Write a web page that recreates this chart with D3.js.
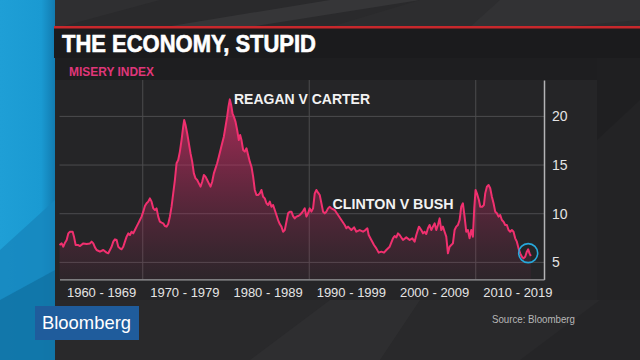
<!DOCTYPE html>
<html><head><meta charset="utf-8">
<script src="https://cdn.jsdelivr.net/npm/d3@7"></script>
<style>html,body{margin:0;padding:0;background:#2a2a2c;}svg{display:block;}</style>
</head><body>
<svg id="c" width="640" height="360"></svg>
<script>
// ---- data ----
const years = [1960.00,1960.26,1960.46,1960.66,1960.86,1961.06,1961.26,1961.58,1961.74,1961.94,1962.26,1962.46,1962.86,1963.26,1963.66,1963.86,1964.06,1964.26,1964.46,1964.86,1965.26,1965.66,1965.86,1966.06,1966.26,1966.46,1966.66,1966.86,1967.06,1967.26,1967.46,1967.66,1967.86,1968.06,1968.26,1968.46,1968.66,1968.86,1969.06,1969.26,1969.46,1969.66,1969.86,1970.06,1970.26,1970.46,1970.66,1970.86,1971.06,1971.26,1971.46,1971.66,1971.86,1972.06,1972.26,1972.46,1972.66,1972.86,1973.06,1973.26,1973.46,1973.66,1973.86,1974.06,1974.26,1974.46,1974.66,1974.86,1974.98,1975.14,1975.34,1975.54,1975.74,1975.94,1976.14,1976.34,1976.54,1976.74,1976.94,1977.14,1977.34,1977.54,1977.74,1977.94,1978.14,1978.34,1978.54,1978.74,1978.94,1979.14,1979.34,1979.54,1979.74,1979.94,1980.14,1980.30,1980.46,1980.62,1980.78,1980.94,1981.14,1981.34,1981.54,1981.70,1981.86,1982.06,1982.26,1982.46,1982.66,1982.86,1983.06,1983.26,1983.46,1983.66,1983.86,1984.06,1984.26,1984.46,1984.66,1984.86,1985.06,1985.26,1985.46,1985.66,1985.86,1986.06,1986.26,1986.46,1986.66,1986.86,1987.06,1987.26,1987.46,1987.66,1987.86,1988.06,1988.26,1988.46,1988.66,1988.86,1989.06,1989.26,1989.46,1989.66,1989.86,1990.06,1990.26,1990.46,1990.66,1990.86,1991.06,1991.26,1991.46,1991.66,1991.86,1992.06,1992.26,1992.46,1992.66,1993.06,1993.46,1993.86,1994.26,1994.46,1994.66,1995.06,1995.38,1995.66,1996.06,1996.46,1996.74,1996.98,1997.14,1997.46,1997.78,1998.06,1998.34,1998.66,1998.98,1999.26,1999.66,2000.06,2000.26,2000.46,2000.66,2000.86,2001.26,2001.66,2002.06,2002.38,2002.66,2002.86,2003.18,2003.46,2003.66,2003.86,2004.06,2004.26,2004.46,2004.66,2004.86,2005.06,2005.26,2005.46,2005.66,2005.86,2006.06,2006.26,2006.46,2006.66,2006.86,2007.06,2007.26,2007.46,2007.66,2007.86,2008.06,2008.26,2008.46,2008.66,2008.86,2009.06,2009.26,2009.46,2009.66,2009.82,2009.98,2010.14,2010.38,2010.54,2010.78,2010.98,2011.14,2011.34,2011.54,2011.74,2011.94,2012.14,2012.34,2012.54,2012.74,2012.94,2013.14,2013.34,2013.54,2013.74,2013.94,2014.14,2014.34,2014.54,2014.74,2014.94,2015.14,2015.34,2015.54,2015.74,2015.94,2016.14,2016.30,2016.46,2016.62];
const misery = [6.78,6.95,6.61,7.02,7.30,7.98,8.15,8.15,7.64,6.78,6.78,6.68,6.95,6.89,6.95,7.13,6.95,6.54,6.27,6.10,6.27,6.00,5.93,6.27,6.61,7.13,7.37,7.30,6.61,6.44,6.34,6.61,7.13,7.64,7.98,7.81,8.15,7.98,8.32,8.67,9.01,9.35,9.70,10.21,10.79,11.07,11.24,11.58,11.24,10.55,10.38,10.55,9.70,9.18,9.08,9.01,8.74,8.67,8.94,9.70,10.72,12.09,13.46,15.18,15.52,16.38,17.57,18.94,19.63,19.12,18.26,17.23,16.20,15.35,14.15,13.63,13.46,13.12,12.78,13.29,13.98,13.81,13.46,13.12,12.78,13.29,14.15,14.66,15.18,15.86,16.55,17.23,17.92,18.94,19.97,21.00,21.75,21.17,20.32,19.97,19.46,18.60,17.57,18.09,17.57,16.55,16.38,16.72,16.03,15.35,14.83,13.81,12.44,11.92,11.92,12.09,12.44,11.75,11.58,11.07,10.89,11.24,10.72,10.89,10.38,9.87,9.35,8.94,8.67,8.15,8.32,9.18,10.04,10.21,10.21,9.76,9.52,9.70,9.76,9.87,10.04,10.28,10.55,9.70,10.04,10.55,10.21,10.55,12.09,12.44,12.16,11.92,11.07,10.21,10.04,10.21,10.55,10.72,10.55,10.38,9.87,9.35,8.84,8.50,8.67,8.32,8.60,8.15,8.32,8.15,8.32,8.50,7.81,7.30,6.78,6.44,6.00,6.10,6.00,6.27,6.61,7.47,7.71,7.57,7.98,7.81,7.30,7.57,7.30,7.47,7.13,7.81,8.67,8.32,7.98,8.15,7.91,8.50,8.84,8.32,8.67,9.01,8.32,8.84,9.52,8.32,8.67,8.15,7.64,5.93,6.61,6.78,6.95,8.32,8.67,8.84,9.35,10.72,11.07,9.70,8.15,8.32,7.47,8.32,7.64,10.55,12.44,12.09,11.41,10.72,10.72,10.89,12.09,12.78,12.95,12.61,11.75,11.07,10.21,10.04,9.70,9.87,9.35,9.18,8.84,8.84,8.32,8.15,8.32,8.15,7.47,7.13,6.44,5.93,5.58,5.41,5.58,6.10,6.34,5.93,5.65];
const decadeMids = [1965,1975,1985,1995,2005,2015];
const decadeLabels = ["1960 - 1969","1970 - 1979","1980 - 1989","1990 - 1999","2000 - 2009","2010 - 2019"];
const xGridYears = [1970,1990,2010];
const yTicks = [5,10,15,20];
const title = "THE ECONOMY, STUPID";
const subtitle = "MISERY INDEX";
const notes = [{text:"REAGAN V CARTER", year:1980.96, value:21.27, len:136},
               {text:"CLINTON V BUSH", year:1992.8, value:10.45, len:121}];
const highlight = {year:2016.3, value:5.95};

// ---- drawing ----
const svg = d3.select("#c");
const font = "'Liberation Sans', Arial, sans-serif";
const defs = svg.append("defs");

// background
svg.append("rect").attr("width",640).attr("height",360).attr("fill","#2a2a2c");
const facets = [
  {p:"55,0 160,0 60,27 55,27", f:"#2f2f31"},
  {p:"165,27 330,0 420,0 250,27", f:"#363638"},
  {p:"420,0 640,0 640,27 330,27", f:"#2d2d2f"},
  {p:"500,0 640,0 640,20 560,27 470,27", f:"#323234"},
  {p:"597,58 640,58 640,300 597,300", f:"#1f1f21"},
  {p:"597,140 640,100 640,300 597,300", f:"#232325"},
  {p:"55,300 640,300 640,360 55,360", f:"#29292b"},
  {p:"250,360 330,300 420,300 380,360", f:"#2e2e30"},
  {p:"520,360 600,300 640,300 640,360", f:"#252527"}
];
svg.selectAll("polygon.facet").data(facets).enter().append("polygon")
  .attr("class","facet").attr("points",d=>d.p).attr("fill",d=>d.f);

// left blue strip
const bg = defs.append("linearGradient").attr("id","blue").attr("x1",0).attr("x2",1).attr("y1",0).attr("y2",0);
bg.append("stop").attr("offset","0").attr("stop-color","#1f9fd6");
bg.append("stop").attr("offset","0.75").attr("stop-color","#1a9ad2");
bg.append("stop").attr("offset","1").attr("stop-color","#127bb0");
svg.append("rect").attr("x",0).attr("y",0).attr("width",55).attr("height",360).attr("fill","url(#blue)");
svg.append("polygon").attr("points","0,250 55,200 55,360 0,360").attr("fill","#1686bd").attr("opacity",0.8);
svg.append("polygon").attr("points","0,300 55,270 55,360 0,360").attr("fill","#0f6f9f").attr("opacity",0.7);

// title bar
svg.append("rect").attr("x",54).attr("y",28).attr("width",586).attr("height",30).attr("fill","#1b1b1d");
svg.append("rect").attr("x",54).attr("y",26).attr("width",586).attr("height",2.5).attr("fill","#c8282c");
svg.append("text").attr("x",62).attr("y",51.5).attr("fill","#ffffff")
  .attr("stroke","#ffffff").attr("stroke-width",0.6)
  .attr("font-family",font).attr("font-weight","bold").attr("font-size",23)
  .attr("textLength",254).attr("lengthAdjust","spacingAndGlyphs").text(title);

// subtitle band and panel
svg.append("rect").attr("x",55).attr("y",58).attr("width",542).attr("height",22).attr("fill","#1e1e20");
svg.append("rect").attr("x",55).attr("y",80).attr("width",542).attr("height",220).attr("fill","#252527");
svg.append("text").attr("x",69).attr("y",76).attr("fill","#e0367a")
  .attr("font-family",font).attr("font-weight","bold").attr("font-size",13)
  .attr("textLength",85).attr("lengthAdjust","spacingAndGlyphs").text(subtitle);

// scales
const x = d3.scaleLinear().domain([1960, 2018.2]).range([59.5, 544]);
const y = d3.scaleLinear().domain([3.25, 23.74]).range([279.4, 80]);
const data = years.map((yr,i)=>({year:yr, value:misery[i]}));

// grid
svg.append("g").selectAll("line").data(yTicks).enter().append("line")
  .attr("x1",x(1960)).attr("x2",x(2018.2)).attr("y1",d=>y(d)).attr("y2",d=>y(d))
  .attr("stroke","#4c4c4e").attr("stroke-width",1);
svg.append("g").selectAll("line").data(xGridYears).enter().append("line")
  .attr("x1",d=>x(d)).attr("x2",d=>x(d)).attr("y1",y.range()[1]).attr("y2",y.range()[0])
  .attr("stroke","#4c4c4e").attr("stroke-width",1);

// area + line
const ag = defs.append("linearGradient").attr("id","fillg").attr("gradientUnits","userSpaceOnUse")
  .attr("x1",0).attr("x2",0).attr("y1",y(22)).attr("y2",y(3.25));
ag.append("stop").attr("offset","0").attr("stop-color","#e8306f").attr("stop-opacity",0.7);
ag.append("stop").attr("offset","0.55").attr("stop-color","#c82a64").attr("stop-opacity",0.34);
ag.append("stop").attr("offset","1").attr("stop-color","#a02858").attr("stop-opacity",0.07);
svg.append("path").datum(data)
  .attr("d", d3.area().x(d=>x(d.year)).y0(y(3.25)).y1(d=>y(d.value)))
  .attr("fill","url(#fillg)");
svg.append("path").datum(data)
  .attr("d", d3.line().x(d=>x(d.year)).y(d=>y(d.value)))
  .attr("fill","none").attr("stroke","#f0306f").attr("stroke-width",2).attr("stroke-linejoin","round");

// axes
const xAxis = svg.append("g").attr("transform",`translate(0,${y(3.25)})`)
  .call(d3.axisBottom(x).tickValues(decadeMids).tickSize(0).tickPadding(8).tickFormat((d,i)=>decadeLabels[i]));
xAxis.select(".domain").attr("stroke","#9a9a9c").attr("stroke-width",1.2);
xAxis.selectAll("text").attr("fill","#e4e4e4").attr("font-family",font).attr("font-size",13);

const yAxis = svg.append("g").attr("transform",`translate(${x(2018.2)},0)`)
  .call(d3.axisRight(y).tickValues(yTicks).tickSize(0).tickPadding(8));
yAxis.select(".domain").attr("stroke","#b4b4b6").attr("stroke-width",1.5);
yAxis.selectAll("text").attr("fill","#e4e4e4").attr("font-family",font).attr("font-size",14);

// annotations
svg.selectAll("text.note").data(notes).enter().append("text").attr("class","note")
  .attr("x",d=>x(d.year)).attr("y",d=>y(d.value)).attr("fill","#f2f2f2")
  .attr("font-family",font).attr("font-weight","bold").attr("font-size",15.5)
  .attr("textLength",d=>d.len).attr("lengthAdjust","spacingAndGlyphs").text(d=>d.text);

svg.append("circle").attr("cx",x(highlight.year)).attr("cy",y(highlight.value)).attr("r",9.5)
  .attr("fill","none").attr("stroke","#27a9dc").attr("stroke-width",1.6);

// footer
svg.append("rect").attr("x",35).attr("y",306).attr("width",104).attr("height",34).attr("fill","#1f5c9c");
svg.append("text").attr("x",42).attr("y",329).attr("fill","#ffffff")
  .attr("font-family",font).attr("font-size",19)
  .attr("textLength",89).attr("lengthAdjust","spacingAndGlyphs").text("Bloomberg");
svg.append("text").attr("x",492).attr("y",323).attr("fill","#b8b8b8")
  .attr("font-family",font).attr("font-size",10.5)
  .attr("textLength",83).attr("lengthAdjust","spacingAndGlyphs").text("Source: Bloomberg");
</script>
</body></html>
